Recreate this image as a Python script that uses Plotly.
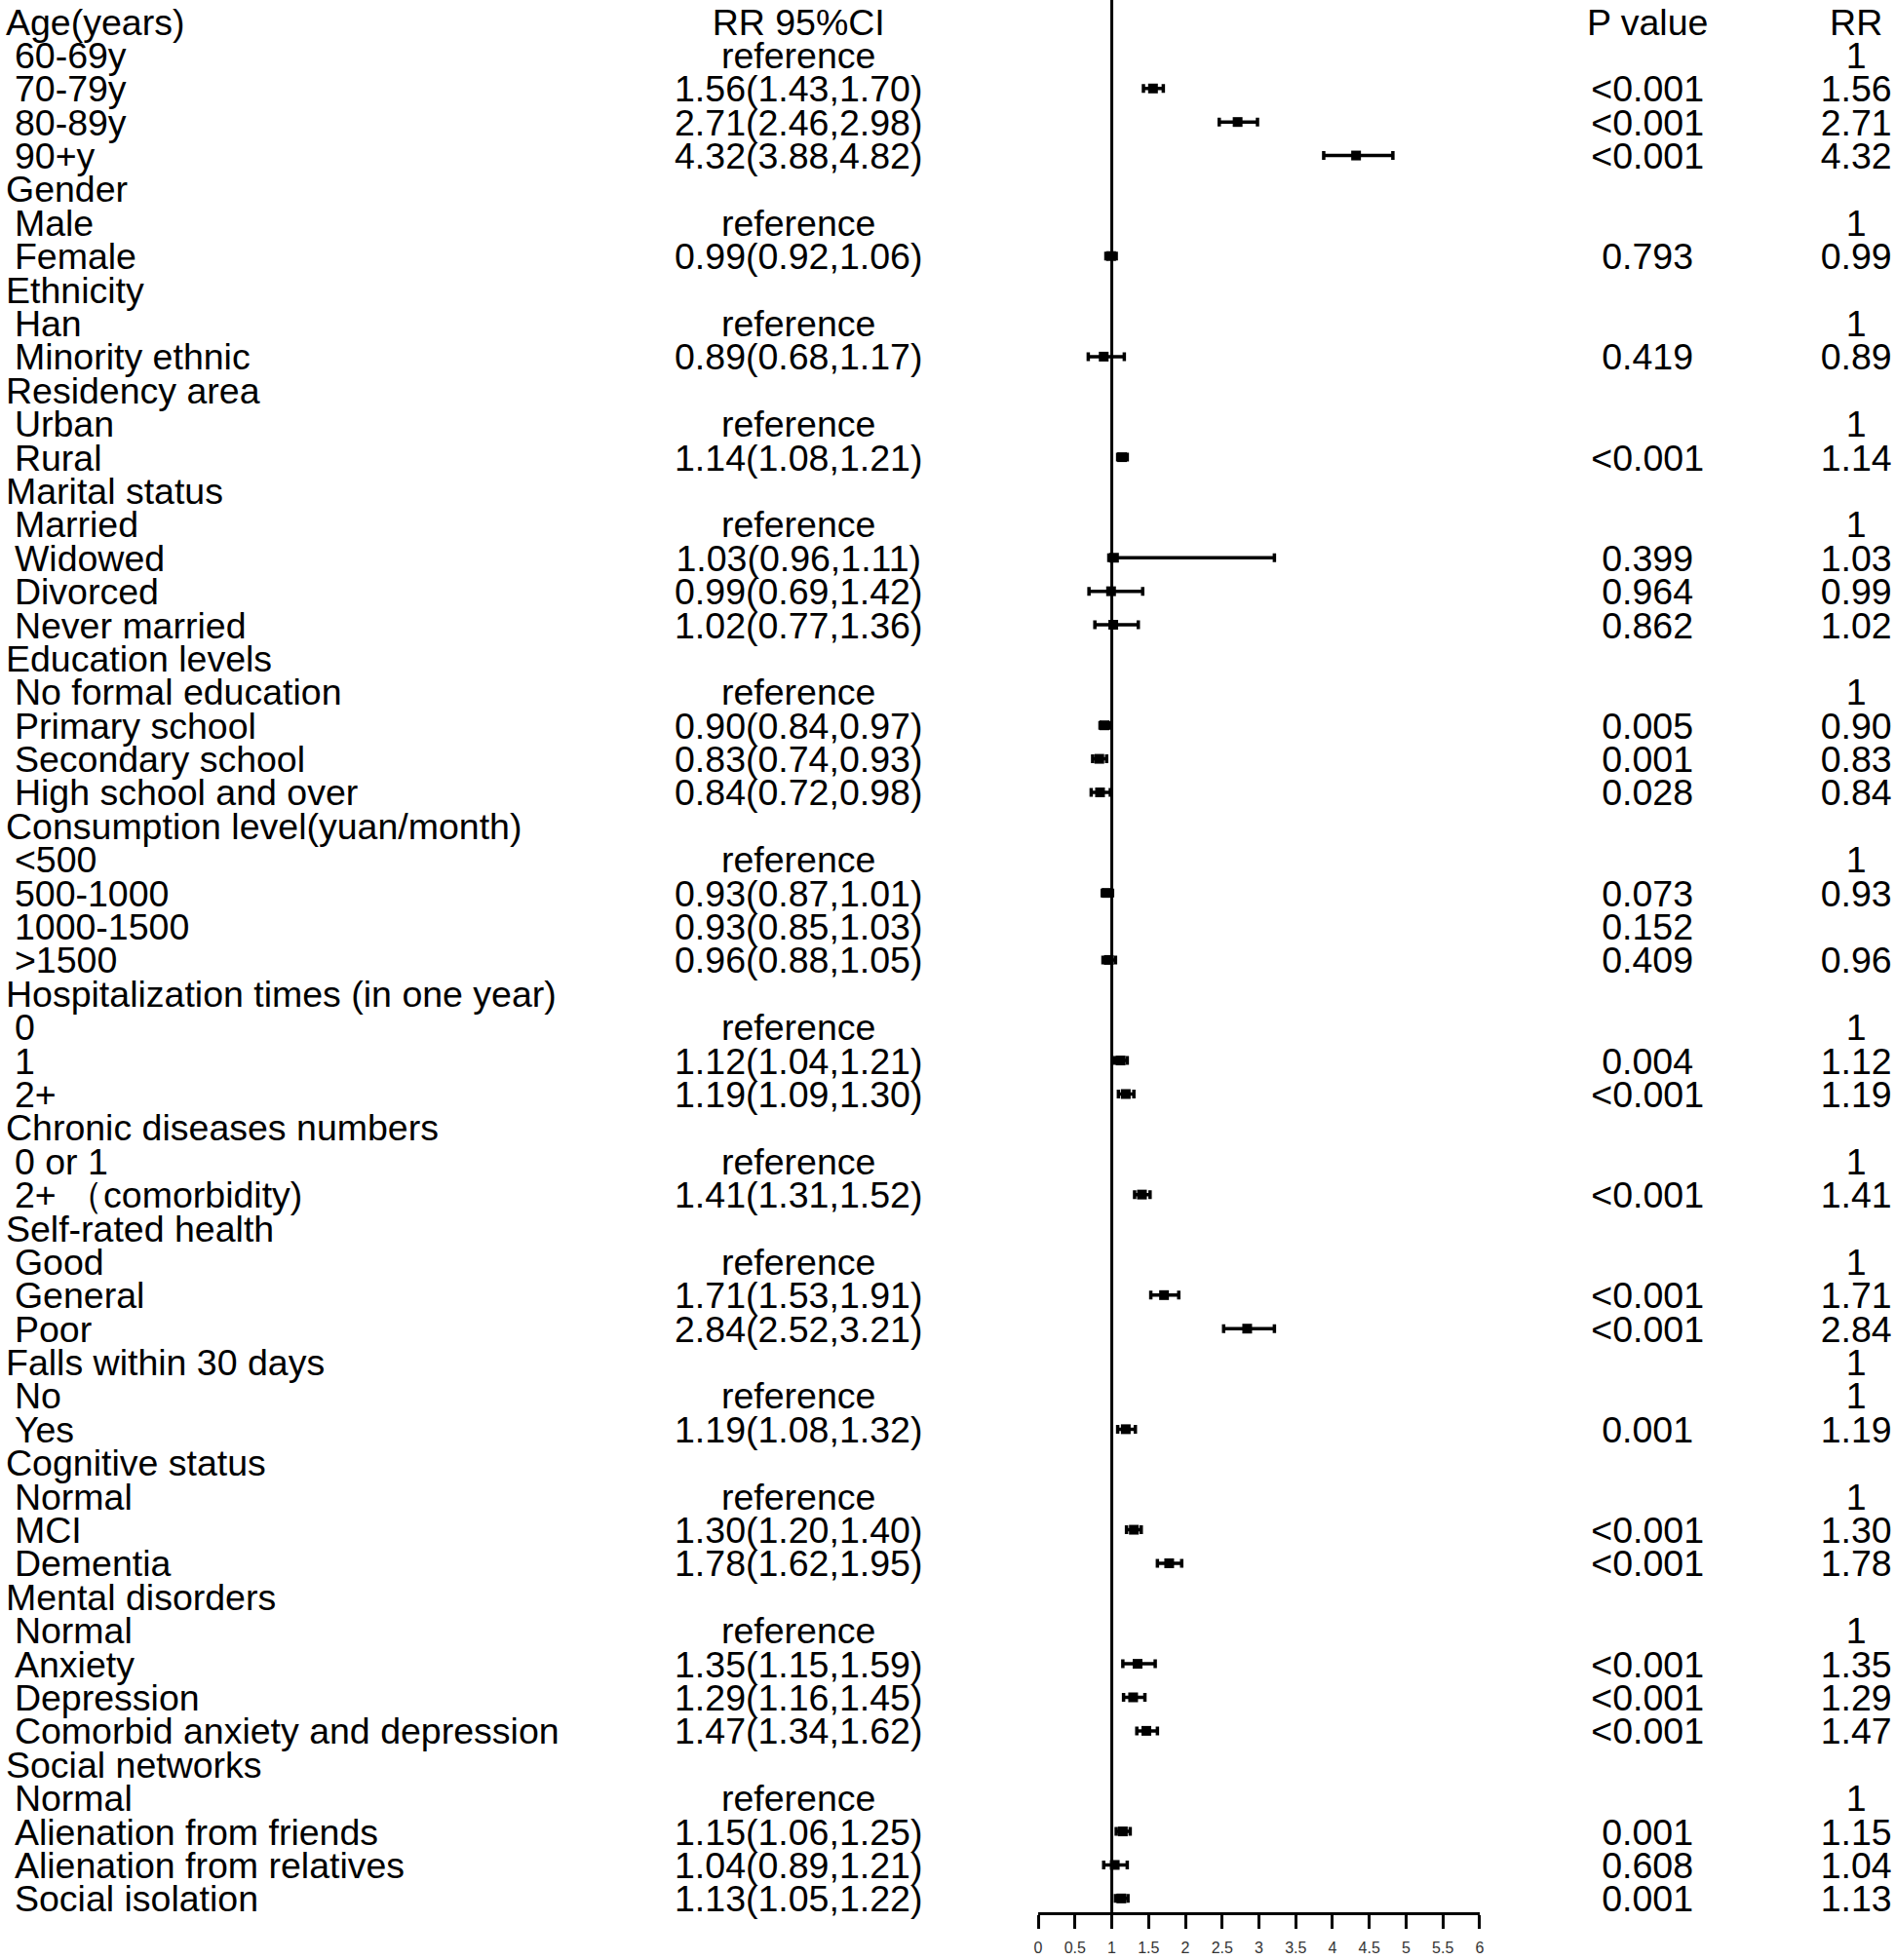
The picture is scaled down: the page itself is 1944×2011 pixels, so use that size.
import plotly.graph_objects as go

# ---------------- data ----------------
labels = [
    "Age(years)", "60-69y", "70-79y", "80-89y", "90+y",
    "Gender", "Male", "Female",
    "Ethnicity", "Han", "Minority ethnic",
    "Residency area", "Urban", "Rural",
    "Marital status", "Married", "Widowed", "Divorced", "Never married",
    "Education levels", "No formal education", "Primary school", "Secondary school", "High school and over",
    "Consumption level(yuan/month)", "<500", "500-1000", "1000-1500", ">1500",
    "Hospitalization times (in one year)", "0", "1", "2+",
    "Chronic diseases numbers", "0 or 1", "2+ （comorbidity)",
    "Self-rated health", "Good", "General", "Poor",
    "Falls within 30 days", "No", "Yes",
    "Cognitive status", "Normal", "MCI", "Dementia",
    "Mental disorders", "Normal", "Anxiety", "Depression", "Comorbid anxiety and depression",
    "Social networks", "Normal", "Alienation from friends", "Alienation from relatives", "Social isolation",
]
is_header = [
    1, 0, 0, 0, 0,
    1, 0, 0,
    1, 0, 0,
    1, 0, 0,
    1, 0, 0, 0, 0,
    1, 0, 0, 0, 0,
    1, 0, 0, 0, 0,
    1, 0, 0, 0,
    1, 0, 0,
    1, 0, 0, 0,
    1, 0, 0,
    1, 0, 0, 0,
    1, 0, 0, 0, 0,
    1, 0, 0, 0, 0,
]
rr_ci_text = [
    "RR 95%CI", "reference", "1.56(1.43,1.70)", "2.71(2.46,2.98)", "4.32(3.88,4.82)",
    "", "reference", "0.99(0.92,1.06)",
    "", "reference", "0.89(0.68,1.17)",
    "", "reference", "1.14(1.08,1.21)",
    "", "reference", "1.03(0.96,1.11)", "0.99(0.69,1.42)", "1.02(0.77,1.36)",
    "", "reference", "0.90(0.84,0.97)", "0.83(0.74,0.93)", "0.84(0.72,0.98)",
    "", "reference", "0.93(0.87,1.01)", "0.93(0.85,1.03)", "0.96(0.88,1.05)",
    "", "reference", "1.12(1.04,1.21)", "1.19(1.09,1.30)",
    "", "reference", "1.41(1.31,1.52)",
    "", "reference", "1.71(1.53,1.91)", "2.84(2.52,3.21)",
    "", "reference", "1.19(1.08,1.32)",
    "", "reference", "1.30(1.20,1.40)", "1.78(1.62,1.95)",
    "", "reference", "1.35(1.15,1.59)", "1.29(1.16,1.45)", "1.47(1.34,1.62)",
    "", "reference", "1.15(1.06,1.25)", "1.04(0.89,1.21)", "1.13(1.05,1.22)",
]
p_text = [
    "P value", "", "<0.001", "<0.001", "<0.001",
    "", "", "0.793",
    "", "", "0.419",
    "", "", "<0.001",
    "", "", "0.399", "0.964", "0.862",
    "", "", "0.005", "0.001", "0.028",
    "", "", "0.073", "0.152", "0.409",
    "", "", "0.004", "<0.001",
    "", "", "<0.001",
    "", "", "<0.001", "<0.001",
    "", "", "0.001",
    "", "", "<0.001", "<0.001",
    "", "", "<0.001", "<0.001", "<0.001",
    "", "", "0.001", "0.608", "0.001",
]
rr_text = [
    "RR", "1", "1.56", "2.71", "4.32",
    "", "1", "0.99",
    "", "1", "0.89",
    "", "1", "1.14",
    "", "1", "1.03", "0.99", "1.02",
    "", "1", "0.90", "0.83", "0.84",
    "", "1", "0.93", "", "0.96",
    "", "1", "1.12", "1.19",
    "", "1", "1.41",
    "", "1", "1.71", "2.84",
    "1", "1", "1.19",
    "", "1", "1.30", "1.78",
    "", "1", "1.35", "1.29", "1.47",
    "", "1", "1.15", "1.04", "1.13",
]
# plotted estimates / CI (None = no mark); widowed upper whisker as drawn (~3.21)
rr_est = [
    None, None, 1.56, 2.71, 4.32,
    None, None, 0.99,
    None, None, 0.89,
    None, None, 1.14,
    None, None, 1.03, 0.99, 1.02,
    None, None, 0.90, 0.83, 0.84,
    None, None, 0.93, None, 0.96,
    None, None, 1.12, 1.19,
    None, None, 1.41,
    None, None, 1.71, 2.84,
    None, None, 1.19,
    None, None, 1.30, 1.78,
    None, None, 1.35, 1.29, 1.47,
    None, None, 1.15, 1.04, 1.13,
]
ci_low = [
    None, None, 1.43, 2.46, 3.88,
    None, None, 0.92,
    None, None, 0.68,
    None, None, 1.08,
    None, None, 0.96, 0.69, 0.77,
    None, None, 0.84, 0.74, 0.72,
    None, None, 0.87, None, 0.88,
    None, None, 1.04, 1.09,
    None, None, 1.31,
    None, None, 1.53, 2.52,
    None, None, 1.08,
    None, None, 1.20, 1.62,
    None, None, 1.15, 1.16, 1.34,
    None, None, 1.06, 0.89, 1.05,
]
ci_high = [
    None, None, 1.70, 2.98, 4.82,
    None, None, 1.06,
    None, None, 1.17,
    None, None, 1.21,
    None, None, 3.21, 1.42, 1.36,
    None, None, 0.97, 0.93, 0.98,
    None, None, 1.01, None, 1.05,
    None, None, 1.21, 1.30,
    None, None, 1.52,
    None, None, 1.91, 3.21,
    None, None, 1.32,
    None, None, 1.40, 1.95,
    None, None, 1.59, 1.45, 1.62,
    None, None, 1.25, 1.21, 1.22,
]
x_ticks = [0, 0.5, 1, 1.5, 2, 2.5, 3, 3.5, 4, 4.5, 5, 5.5, 6]
x_ticktext = ["0", "0.5", "1", "1.5", "2", "2.5", "3", "3.5", "4", "4.5", "5", "5.5", "6"]

# ---------------- layout constants ----------------
W, H = 1944, 2011
FONT = "Arial, 'Liberation Sans', sans-serif"
FS = 37.5
rows = list(range(1, len(labels) + 1))
ROW_PX = 34.39
FIRST_PX = 22
AXIS_PX = 1962
TEXT_SHIFT = 0.12  # text baseline nudge (in row units)
y_top = 1 - FIRST_PX / ROW_PX
y_bot = 1 + (AXIS_PX - FIRST_PX) / ROW_PX
text_rows = [r + TEXT_SHIFT for r in rows]

fig = go.Figure()

# label column
hdr_y = [r for r, h in zip(text_rows, is_header) if h]
hdr_t = [l for l, h in zip(labels, is_header) if h]
sub_y = [r for r, h in zip(text_rows, is_header) if not h]
sub_t = [l for l, h in zip(labels, is_header) if not h]
txtfont = dict(family=FONT, size=FS, color="black")
fig.add_trace(go.Scatter(x=[2] * len(hdr_y), y=hdr_y, text=hdr_t, mode="text",
                         textposition="middle right", textfont=txtfont, cliponaxis=False,
                         xaxis="x2", yaxis="y", hoverinfo="skip", showlegend=False))
fig.add_trace(go.Scatter(x=[11] * len(sub_y), y=sub_y, text=sub_t, mode="text",
                         textposition="middle right", textfont=txtfont, cliponaxis=False,
                         xaxis="x2", yaxis="y", hoverinfo="skip", showlegend=False))
for xc, col in [(819, rr_ci_text), (1694, p_text), (1909, rr_text)]:
    fig.add_trace(go.Scatter(x=[xc] * len(rows), y=text_rows, text=col, mode="text",
                             textposition="middle center", textfont=txtfont, cliponaxis=False,
                             xaxis="x2", yaxis="y", hoverinfo="skip", showlegend=False))

# forest marks
fx, fy, ep, em = [], [], [], []
for r, e, lo, hi in zip(rows, rr_est, ci_low, ci_high):
    if e is None:
        continue
    fx.append(e)
    fy.append(r)
    ep.append(hi - e)
    em.append(e - lo)
fig.add_trace(go.Scatter(
    x=fx, y=fy, mode="markers",
    marker=dict(symbol="square", size=10, color="black"),
    error_x=dict(type="data", symmetric=False, array=ep, arrayminus=em,
                 color="black", thickness=3.5, width=4.5),
    xaxis="x", yaxis="y", showlegend=False, cliponaxis=False))

x0 = 1066 / W
x1 = 1521 / W
fig.update_layout(
    width=W, height=H,
    margin=dict(l=0, r=0, t=0, b=0),
    paper_bgcolor="white", plot_bgcolor="rgba(0,0,0,0)",
    showlegend=False,
    xaxis=dict(domain=[x0, x1], range=[0, 6], anchor="y",
               tickvals=x_ticks, ticktext=x_ticktext,
               showline=True, linecolor="black", linewidth=3,
               ticks="outside", ticklen=14, tickwidth=3, tickcolor="black",
               ticklabelstandoff=6,
               showgrid=False, zeroline=False,
               tickfont=dict(family=FONT, size=16, color="#333333")),
    xaxis2=dict(domain=[0, 1], range=[0, W], anchor="y",
                visible=False, showgrid=False, zeroline=False),
    yaxis=dict(domain=[(H - AXIS_PX) / H, 1], range=[y_bot, y_top],
               visible=False, showgrid=False, zeroline=False),
    shapes=[dict(type="line", xref="x", yref="y domain", x0=1, x1=1, y0=0, y1=1,
                 line=dict(color="black", width=3), layer="above")],
)

fig.write_html(
    "out.html",
    config={"displayModeBar": False},
    post_script="document.body.style.margin='0';document.body.style.overflow='hidden';",
)
